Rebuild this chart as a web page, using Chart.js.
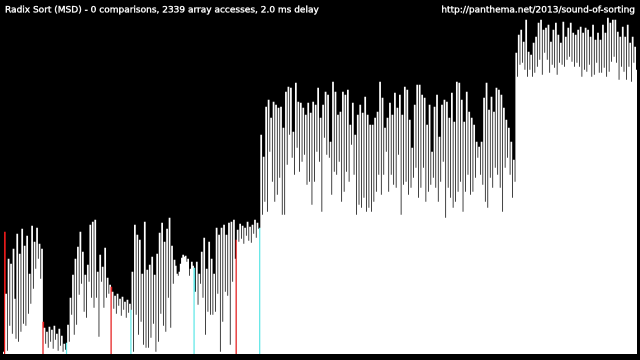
<!DOCTYPE html>
<html>
<head>
<meta charset="utf-8">
<script src="https://cdn.jsdelivr.net/npm/chart.js@4"></script>
<style>
    html, body { margin: 0; padding: 0; background: #000; }
    #chart { display: block; background: #000; width: 640px; height: 360px; }
</style>
</head>
<body>
<canvas id="chart" width="640" height="360"></canvas>
<script>
const titleText = 'Radix Sort (MSD) - 0 comparisons, 2339 array accesses, 2.0 ms delay';
const urlText = 'http://panthema.net/2013/sound-of-sorting';

// bar heights, left to right (first bucket still being split into sub-buckets)
const lowBucket = [
    2, 122,
    60, 3, 95, 28, 90, 20, 105, 55, 15, 120, 12, 100, 22, 125, 30, 108, 28, 118, 40, 80, 50, 128, 65, 112, 85, 126, 95, 110, 75, 105,
    32,
    26, 10, 22, 6, 27, 12, 24, 5, 28, 14, 20, 3, 25, 8, 18, 2, 10, 4,
    11,
    29, 12, 56, 39, 79, 19, 95, 29, 107, 59, 122, 70, 102, 42, 79, 36, 89, 72, 129, 56, 132, 46, 134, 56, 82, 17, 99, 72, 87, 46, 106, 56, 76, 60, 69,
    67,
    62, 45, 58, 40, 60, 48, 55, 38, 57, 44, 52, 36, 54, 41, 50,
    44,
    82, 2, 129, 39, 119, 19, 114, 32, 80, 9, 132, 6, 84, 6, 89, 16, 97, 30, 79, 2, 100, 12, 121, 40, 131, 28, 112, 22, 125, 56, 136, 26, 108, 70,
    94, 88, 80, 78, 82, 90, 96, 99, 97, 98, 92, 95, 78, 85, 92, 88,
    86,
    62, 92, 49, 80, 70, 102, 56, 116, 19, 85, 42, 112, 39, 95, 39, 80, 42, 126, 60, 119, 2, 126, 32, 129, 62, 119, 58, 131, 9, 132, 72, 134, 95,
    114,
    124, 112, 130, 115, 128, 110, 126, 118, 132, 113, 127, 111, 129, 120, 134, 116, 131, 125,
    126
];

const midBucket = [
    219, 139, 197, 152, 247, 142, 254, 202, 236, 172, 252, 152, 249, 159, 246, 176, 247, 139, 226, 139,
    262, 189, 267, 219, 266, 196, 222, 179, 271, 206, 252, 182, 251, 192, 246, 199, 239, 169, 251, 172,
    241, 149, 252, 172, 249, 202, 266, 192, 236, 142, 249, 216, 262, 199, 259, 196, 212, 159, 272, 182,
    262, 179, 239, 192, 242, 152, 262, 162, 259, 182, 264, 172, 229, 209, 251, 179, 219, 139, 239, 149,
    249, 146, 241, 156, 257, 142, 239, 146, 229, 142, 229, 152, 236, 162, 242, 179, 272, 159, 256, 179,
    226, 202, 236, 162, 251, 179, 239, 169, 261, 166, 246, 199, 259, 139, 239, 169, 267, 172, 264, 159,
    234, 166, 206, 176, 249, 186, 269, 156, 269, 166, 259, 186, 256, 152, 229, 162, 249, 169, 202, 176,
    247, 166, 259, 152, 217, 172, 249, 192, 254, 136, 252, 166, 236, 156, 261, 146, 232, 152, 272, 162,
    271, 172, 254, 142, 232, 162, 262, 179, 242, 159, 236, 162, 229, 176, 212, 196, 207, 179, 212, 169,
    256, 152, 271, 146, 244, 176, 257, 166, 242, 186, 266, 179, 264, 166, 259, 142, 246, 186, 234, 196,
    226, 179, 212, 156, 194, 172
];

const highBucket = [
    301, 277, 319, 289, 324, 291, 312, 284, 334, 277, 302, 284, 299, 277, 311, 281, 317, 287, 331, 294,
    334, 279, 324, 301, 326, 294, 329, 281, 312, 289, 324, 286, 331, 279, 319, 291, 311, 289, 332, 287,
    317, 294, 326, 297, 331, 292, 321, 287, 319, 291, 324, 287, 327, 277, 321, 284, 326, 282, 324, 289,
    317, 277, 329, 279, 314, 291, 321, 281, 314, 281, 329, 286, 321, 277, 336, 282, 331, 292, 334, 297,
    334, 291, 322, 274, 317, 287, 327, 282, 317, 274, 329, 287, 311, 272, 317, 291, 307, 284
];

// highlighted positions
const redMarks = [1, 32, 87, 188];
const cyanMarks = [51, 103, 154, 207];

const values = lowBucket.concat(midBucket, highBucket);
const labels = values.map((v, i) => i);
const colors = values.map((v, i) => {
    if (redMarks.includes(i)) return '#e41a1a';
    if (cyanMarks.includes(i)) return '#5ee6e6';
    return '#ffffff';
});

const headerText = {
    id: 'headerText',
    afterDraw(chart) {
        const ctx = chart.ctx;
        ctx.save();
        ctx.fillStyle = '#ffffff';
        ctx.strokeStyle = '#ffffff';
        ctx.lineWidth = 0.35;
        ctx.font = '9px "DejaVu Sans"';
        ctx.textBaseline = 'alphabetic';
        ctx.textAlign = 'left';
        ctx.fillText(titleText, 5, 12.5);
        ctx.strokeText(titleText, 5, 12.5);
        ctx.textAlign = 'right';
        ctx.fillText(urlText, 635, 12.5);
        ctx.strokeText(urlText, 635, 12.5);
        ctx.restore();
    }
};

new Chart(document.getElementById('chart').getContext('2d'), {
    type: 'bar',
    data: {
        labels: labels,
        datasets: [{
            data: values,
            backgroundColor: colors,
            borderWidth: 0,
            barPercentage: 1,
            categoryPercentage: 1,
            inflateAmount: 0.25
        }]
    },
    options: {
        responsive: false,
        animation: false,
        devicePixelRatio: 2,
        layout: { padding: { left: 3, right: 3, top: 0, bottom: 6 } },
        plugins: {
            legend: { display: false },
            tooltip: { enabled: false }
        },
        scales: {
            x: { display: false },
            y: { display: false, min: 0, max: 354 }
        }
    },
    plugins: [headerText]
});
</script>
</body>
</html>
